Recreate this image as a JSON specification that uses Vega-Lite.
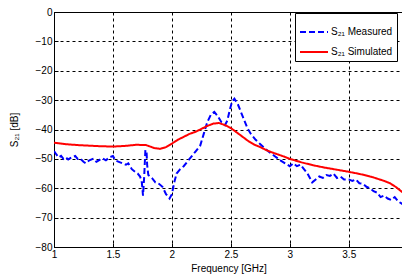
{
  "$schema": "https://vega.github.io/schema/vega-lite/v6.json",
  "width": 349,
  "height": 235,
  "autosize": "none",
  "padding": {"left": 54, "top": 12, "right": 0, "bottom": 31},
  "background": "white",
  "config": {
    "view": {"stroke": "black", "strokeWidth": 1},
    "font": "Liberation Sans",
    "axis": {
      "labelFont": "Liberation Sans", "labelFontSize": 10, "labelColor": "black",
      "titleFont": "Liberation Sans", "titleFontSize": 10, "titleFontWeight": "normal", "titleColor": "black",
      "domainColor": "black", "tickColor": "black", "gridColor": "black", "gridDash": [3, 3], "gridOpacity": 1, "gridWidth": 1
    }
  },
  "data": {"values": [
    {"f": 1.00, "s21": -47.3, "series": "S₂₁ Measured"},
    {"f": 1.02, "s21": -48.5, "series": "S₂₁ Measured"},
    {"f": 1.04, "s21": -49.5, "series": "S₂₁ Measured"},
    {"f": 1.06, "s21": -49.0, "series": "S₂₁ Measured"},
    {"f": 1.08, "s21": -50.0, "series": "S₂₁ Measured"},
    {"f": 1.10, "s21": -49.5, "series": "S₂₁ Measured"},
    {"f": 1.12, "s21": -50.2, "series": "S₂₁ Measured"},
    {"f": 1.15, "s21": -49.5, "series": "S₂₁ Measured"},
    {"f": 1.18, "s21": -49.0, "series": "S₂₁ Measured"},
    {"f": 1.20, "s21": -50.0, "series": "S₂₁ Measured"},
    {"f": 1.22, "s21": -49.8, "series": "S₂₁ Measured"},
    {"f": 1.25, "s21": -51.0, "series": "S₂₁ Measured"},
    {"f": 1.27, "s21": -51.5, "series": "S₂₁ Measured"},
    {"f": 1.30, "s21": -50.5, "series": "S₂₁ Measured"},
    {"f": 1.33, "s21": -50.0, "series": "S₂₁ Measured"},
    {"f": 1.36, "s21": -51.0, "series": "S₂₁ Measured"},
    {"f": 1.38, "s21": -50.5, "series": "S₂₁ Measured"},
    {"f": 1.41, "s21": -49.8, "series": "S₂₁ Measured"},
    {"f": 1.44, "s21": -50.5, "series": "S₂₁ Measured"},
    {"f": 1.47, "s21": -49.5, "series": "S₂₁ Measured"},
    {"f": 1.50, "s21": -49.0, "series": "S₂₁ Measured"},
    {"f": 1.52, "s21": -50.5, "series": "S₂₁ Measured"},
    {"f": 1.55, "s21": -51.0, "series": "S₂₁ Measured"},
    {"f": 1.58, "s21": -51.5, "series": "S₂₁ Measured"},
    {"f": 1.61, "s21": -52.0, "series": "S₂₁ Measured"},
    {"f": 1.63, "s21": -51.5, "series": "S₂₁ Measured"},
    {"f": 1.66, "s21": -53.5, "series": "S₂₁ Measured"},
    {"f": 1.69, "s21": -54.5, "series": "S₂₁ Measured"},
    {"f": 1.71, "s21": -55.0, "series": "S₂₁ Measured"},
    {"f": 1.73, "s21": -56.0, "series": "S₂₁ Measured"},
    {"f": 1.745, "s21": -58.0, "series": "S₂₁ Measured"},
    {"f": 1.755, "s21": -62.5, "series": "S₂₁ Measured"},
    {"f": 1.765, "s21": -56.0, "series": "S₂₁ Measured"},
    {"f": 1.775, "s21": -47.0, "series": "S₂₁ Measured"},
    {"f": 1.785, "s21": -47.5, "series": "S₂₁ Measured"},
    {"f": 1.79, "s21": -52.0, "series": "S₂₁ Measured"},
    {"f": 1.80, "s21": -55.5, "series": "S₂₁ Measured"},
    {"f": 1.83, "s21": -56.5, "series": "S₂₁ Measured"},
    {"f": 1.86, "s21": -58.0, "series": "S₂₁ Measured"},
    {"f": 1.89, "s21": -58.5, "series": "S₂₁ Measured"},
    {"f": 1.92, "s21": -59.5, "series": "S₂₁ Measured"},
    {"f": 1.95, "s21": -62.0, "series": "S₂₁ Measured"},
    {"f": 1.98, "s21": -63.5, "series": "S₂₁ Measured"},
    {"f": 2.00, "s21": -62.0, "series": "S₂₁ Measured"},
    {"f": 2.02, "s21": -58.0, "series": "S₂₁ Measured"},
    {"f": 2.04, "s21": -55.0, "series": "S₂₁ Measured"},
    {"f": 2.07, "s21": -53.5, "series": "S₂₁ Measured"},
    {"f": 2.10, "s21": -52.5, "series": "S₂₁ Measured"},
    {"f": 2.13, "s21": -51.0, "series": "S₂₁ Measured"},
    {"f": 2.16, "s21": -49.5, "series": "S₂₁ Measured"},
    {"f": 2.20, "s21": -47.5, "series": "S₂₁ Measured"},
    {"f": 2.24, "s21": -45.5, "series": "S₂₁ Measured"},
    {"f": 2.27, "s21": -41.5, "series": "S₂₁ Measured"},
    {"f": 2.30, "s21": -37.5, "series": "S₂₁ Measured"},
    {"f": 2.33, "s21": -35.0, "series": "S₂₁ Measured"},
    {"f": 2.36, "s21": -34.0, "series": "S₂₁ Measured"},
    {"f": 2.39, "s21": -35.5, "series": "S₂₁ Measured"},
    {"f": 2.42, "s21": -37.5, "series": "S₂₁ Measured"},
    {"f": 2.45, "s21": -38.5, "series": "S₂₁ Measured"},
    {"f": 2.47, "s21": -37.0, "series": "S₂₁ Measured"},
    {"f": 2.49, "s21": -33.5, "series": "S₂₁ Measured"},
    {"f": 2.51, "s21": -30.5, "series": "S₂₁ Measured"},
    {"f": 2.53, "s21": -29.5, "series": "S₂₁ Measured"},
    {"f": 2.56, "s21": -31.5, "series": "S₂₁ Measured"},
    {"f": 2.58, "s21": -33.5, "series": "S₂₁ Measured"},
    {"f": 2.61, "s21": -36.5, "series": "S₂₁ Measured"},
    {"f": 2.64, "s21": -39.5, "series": "S₂₁ Measured"},
    {"f": 2.67, "s21": -41.5, "series": "S₂₁ Measured"},
    {"f": 2.71, "s21": -43.5, "series": "S₂₁ Measured"},
    {"f": 2.75, "s21": -45.0, "series": "S₂₁ Measured"},
    {"f": 2.79, "s21": -46.5, "series": "S₂₁ Measured"},
    {"f": 2.83, "s21": -47.8, "series": "S₂₁ Measured"},
    {"f": 2.87, "s21": -49.0, "series": "S₂₁ Measured"},
    {"f": 2.92, "s21": -50.5, "series": "S₂₁ Measured"},
    {"f": 2.96, "s21": -51.5, "series": "S₂₁ Measured"},
    {"f": 3.00, "s21": -52.5, "series": "S₂₁ Measured"},
    {"f": 3.03, "s21": -51.5, "series": "S₂₁ Measured"},
    {"f": 3.06, "s21": -52.5, "series": "S₂₁ Measured"},
    {"f": 3.09, "s21": -52.0, "series": "S₂₁ Measured"},
    {"f": 3.12, "s21": -53.5, "series": "S₂₁ Measured"},
    {"f": 3.15, "s21": -55.0, "series": "S₂₁ Measured"},
    {"f": 3.19, "s21": -58.0, "series": "S₂₁ Measured"},
    {"f": 3.22, "s21": -57.0, "series": "S₂₁ Measured"},
    {"f": 3.25, "s21": -56.0, "series": "S₂₁ Measured"},
    {"f": 3.28, "s21": -56.5, "series": "S₂₁ Measured"},
    {"f": 3.31, "s21": -55.5, "series": "S₂₁ Measured"},
    {"f": 3.34, "s21": -55.8, "series": "S₂₁ Measured"},
    {"f": 3.37, "s21": -55.0, "series": "S₂₁ Measured"},
    {"f": 3.40, "s21": -56.5, "series": "S₂₁ Measured"},
    {"f": 3.43, "s21": -56.0, "series": "S₂₁ Measured"},
    {"f": 3.46, "s21": -57.0, "series": "S₂₁ Measured"},
    {"f": 3.50, "s21": -57.0, "series": "S₂₁ Measured"},
    {"f": 3.53, "s21": -57.5, "series": "S₂₁ Measured"},
    {"f": 3.56, "s21": -57.0, "series": "S₂₁ Measured"},
    {"f": 3.59, "s21": -58.3, "series": "S₂₁ Measured"},
    {"f": 3.62, "s21": -58.5, "series": "S₂₁ Measured"},
    {"f": 3.65, "s21": -59.5, "series": "S₂₁ Measured"},
    {"f": 3.68, "s21": -60.0, "series": "S₂₁ Measured"},
    {"f": 3.71, "s21": -61.0, "series": "S₂₁ Measured"},
    {"f": 3.74, "s21": -61.5, "series": "S₂₁ Measured"},
    {"f": 3.77, "s21": -63.0, "series": "S₂₁ Measured"},
    {"f": 3.80, "s21": -62.5, "series": "S₂₁ Measured"},
    {"f": 3.83, "s21": -63.5, "series": "S₂₁ Measured"},
    {"f": 3.86, "s21": -64.0, "series": "S₂₁ Measured"},
    {"f": 3.89, "s21": -63.0, "series": "S₂₁ Measured"},
    {"f": 3.92, "s21": -64.5, "series": "S₂₁ Measured"},
    {"f": 3.96, "s21": -65.5, "series": "S₂₁ Measured"},
    {"f": 1.00, "s21": -44.5, "series": "S₂₁ Simulated"},
    {"f": 1.10, "s21": -45.0, "series": "S₂₁ Simulated"},
    {"f": 1.20, "s21": -45.3, "series": "S₂₁ Simulated"},
    {"f": 1.30, "s21": -45.5, "series": "S₂₁ Simulated"},
    {"f": 1.40, "s21": -45.7, "series": "S₂₁ Simulated"},
    {"f": 1.50, "s21": -45.8, "series": "S₂₁ Simulated"},
    {"f": 1.60, "s21": -45.6, "series": "S₂₁ Simulated"},
    {"f": 1.70, "s21": -45.2, "series": "S₂₁ Simulated"},
    {"f": 1.78, "s21": -45.3, "series": "S₂₁ Simulated"},
    {"f": 1.85, "s21": -46.3, "series": "S₂₁ Simulated"},
    {"f": 1.90, "s21": -46.6, "series": "S₂₁ Simulated"},
    {"f": 1.95, "s21": -46.0, "series": "S₂₁ Simulated"},
    {"f": 2.00, "s21": -44.8, "series": "S₂₁ Simulated"},
    {"f": 2.05, "s21": -43.5, "series": "S₂₁ Simulated"},
    {"f": 2.10, "s21": -42.5, "series": "S₂₁ Simulated"},
    {"f": 2.15, "s21": -41.5, "series": "S₂₁ Simulated"},
    {"f": 2.20, "s21": -40.8, "series": "S₂₁ Simulated"},
    {"f": 2.25, "s21": -39.8, "series": "S₂₁ Simulated"},
    {"f": 2.30, "s21": -38.8, "series": "S₂₁ Simulated"},
    {"f": 2.35, "s21": -38.0, "series": "S₂₁ Simulated"},
    {"f": 2.40, "s21": -37.8, "series": "S₂₁ Simulated"},
    {"f": 2.45, "s21": -38.5, "series": "S₂₁ Simulated"},
    {"f": 2.50, "s21": -39.5, "series": "S₂₁ Simulated"},
    {"f": 2.55, "s21": -41.0, "series": "S₂₁ Simulated"},
    {"f": 2.60, "s21": -42.5, "series": "S₂₁ Simulated"},
    {"f": 2.65, "s21": -44.0, "series": "S₂₁ Simulated"},
    {"f": 2.70, "s21": -45.2, "series": "S₂₁ Simulated"},
    {"f": 2.75, "s21": -46.0, "series": "S₂₁ Simulated"},
    {"f": 2.80, "s21": -47.0, "series": "S₂₁ Simulated"},
    {"f": 2.85, "s21": -47.8, "series": "S₂₁ Simulated"},
    {"f": 2.90, "s21": -48.5, "series": "S₂₁ Simulated"},
    {"f": 2.95, "s21": -49.2, "series": "S₂₁ Simulated"},
    {"f": 3.00, "s21": -50.0, "series": "S₂₁ Simulated"},
    {"f": 3.10, "s21": -51.2, "series": "S₂₁ Simulated"},
    {"f": 3.20, "s21": -52.2, "series": "S₂₁ Simulated"},
    {"f": 3.30, "s21": -53.0, "series": "S₂₁ Simulated"},
    {"f": 3.40, "s21": -53.7, "series": "S₂₁ Simulated"},
    {"f": 3.50, "s21": -54.4, "series": "S₂₁ Simulated"},
    {"f": 3.60, "s21": -55.2, "series": "S₂₁ Simulated"},
    {"f": 3.70, "s21": -56.2, "series": "S₂₁ Simulated"},
    {"f": 3.80, "s21": -57.5, "series": "S₂₁ Simulated"},
    {"f": 3.85, "s21": -58.3, "series": "S₂₁ Simulated"},
    {"f": 3.90, "s21": -59.6, "series": "S₂₁ Simulated"},
    {"f": 3.96, "s21": -61.5, "series": "S₂₁ Simulated"}
  ]},
  "mark": {"type": "line", "strokeWidth": 2, "clip": true},
  "encoding": {
    "x": {
      "field": "f", "type": "quantitative",
      "scale": {"domain": [1, 3.96], "nice": false, "zero": false},
      "axis": {"title": "Frequency [GHz]", "format": "~g", "values": [1, 1.5, 2, 2.5, 3, 3.5], "tickSize": -4, "labelPadding": 6, "titlePadding": 4, "labelFlush": false}
    },
    "y": {
      "field": "s21", "type": "quantitative",
      "scale": {"domain": [-80, 0], "nice": false, "zero": false},
      "axis": {"title": "S₂₁ [dB]", "values": [0, -10, -20, -30, -40, -50, -60, -70, -80], "tickSize": -4, "labelPadding": 6, "titlePadding": 16, "labelFlush": false}
    },
    "color": {
      "field": "series", "type": "nominal",
      "scale": {"domain": ["S₂₁ Measured", "S₂₁ Simulated"], "range": ["#0000ff", "#ff0000"]},
      "legend": {
        "title": null, "orient": "none", "legendX": 241, "legendY": 1,
        "strokeColor": "black", "fillColor": "white", "padding": 4,
        "symbolType": "stroke", "symbolSize": 784, "symbolStrokeWidth": 2,
        "labelFont": "Liberation Sans", "labelFontSize": 10, "labelColor": "black", "rowPadding": -10, "labelOffset": 2
      }
    },
    "strokeDash": {
      "field": "series", "type": "nominal",
      "scale": {"domain": ["S₂₁ Measured", "S₂₁ Simulated"], "range": [[6, 3], [1, 0]]},
      "legend": {
        "title": null, "orient": "none", "legendX": 241, "legendY": 1,
        "strokeColor": "black", "fillColor": "white", "padding": 4,
        "symbolType": "stroke", "symbolSize": 784, "symbolStrokeWidth": 2,
        "labelFont": "Liberation Sans", "labelFontSize": 10, "labelColor": "black", "rowPadding": -10, "labelOffset": 2
      }
    }
  }
}
